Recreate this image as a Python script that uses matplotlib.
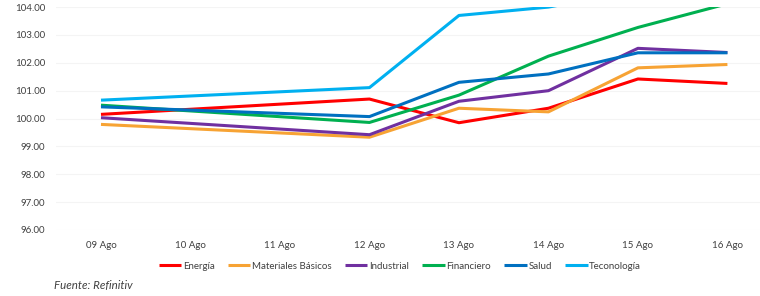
import matplotlib
matplotlib.use("Agg")
import matplotlib.pyplot as plt

# datos
fechas = ["09 Ago", "10 Ago", "11 Ago", "12 Ago", "13 Ago", "14 Ago", "15 Ago", "16 Ago"]
energia = [100.15, None, None, 100.70, 99.85, 100.37, 101.42, 101.26]
materiales = [99.79, None, None, 99.33, 100.37, 100.24, 101.82, 101.94]
industrial = [100.03, None, None, 99.42, 100.62, 101.00, 102.52, 102.37]
financiero = [100.48, None, None, 99.86, 100.84, 102.24, 103.27, 104.12]
salud = [100.42, None, None, 100.07, 101.30, 101.60, 102.36, 102.36]
tecnologia = [100.66, None, None, 101.11, 103.70, 104.00, 104.60, 105.00]

series = [
    ("Energía", energia, "#FF0000"),
    ("Materiales Básicos", materiales, "#F7A334"),
    ("Industrial", industrial, "#7030A0"),
    ("Financiero", financiero, "#00B050"),
    ("Salud", salud, "#0070C0"),
    ("Teconología", tecnologia, "#00B0F0"),
]

plt.rcParams["font.family"] = ["Lato", "DejaVu Sans"]

fig = plt.figure(figsize=(7.6, 2.96), dpi=100)
ax = fig.add_axes([0.074, 0.223, 0.942, 0.753])

for nombre, valores, color in series:
    xs = [i for i, v in enumerate(valores) if v is not None]
    ys = [v for v in valores if v is not None]
    ax.plot(xs, ys, color=color, linewidth=2.2, label=nombre, solid_capstyle="butt")

ax.set_xlim(-0.5, 7.5)
ax.set_ylim(96, 104)
ax.set_yticks(range(96, 105))
ax.set_yticklabels([f"{v:.2f}" for v in range(96, 105)])
ax.set_xticks(range(len(fechas)))
ax.set_xticklabels(fechas)
ax.tick_params(length=0, labelsize=7, colors="#404040")
ax.tick_params(axis="x", pad=8)
ax.tick_params(axis="y", pad=8)
ax.grid(axis="y", color="#F4F4F4", linewidth=0.8)
ax.set_axisbelow(True)
for s in ax.spines.values():
    s.set_visible(False)

fig.legend(loc="center", bbox_to_anchor=(400 / 760, 0.101), ncol=6, frameon=False,
           fontsize=7, handlelength=2.3, handletextpad=0.15, columnspacing=1.4,
           labelcolor="#404040")

fig.text(54 / 760, 1 - 285 / 296, "Fuente: Refinitiv", fontsize=8.3, style="italic",
         color="#404040", va="center")

fig.savefig("out.png", dpi=100)
